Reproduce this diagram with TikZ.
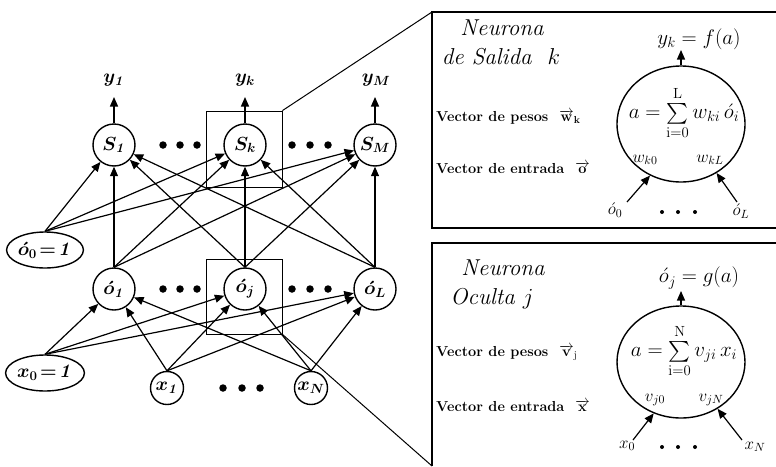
\RequirePackage{fix-cm}
\documentclass[tikz,border=0pt]{standalone}
\usepackage{amsmath}
\usetikzlibrary{arrows.meta,shapes.geometric}
\newcommand\netfont{\fontsize{19}{22}\selectfont\boldmath}
\newcommand\panfont{\fontsize{21}{24}\selectfont}
\newcommand\ttlfont{\fontsize{23}{27}\selectfont\itshape}
\newcommand\vecfont{\fontsize{14.5}{17}\selectfont\bfseries}
\newcommand\smfont{\fontsize{17}{20}\selectfont}
\tikzset{
  neuron/.style={circle,draw,line width=1.4pt,minimum size=42pt,inner sep=0pt,font=\netfont},
  inneuron/.style={circle,draw,line width=1.4pt,minimum size=33pt,inner sep=0pt,font=\netfont},
  biasnode/.style={ellipse,draw,line width=1.4pt,minimum width=70pt,minimum height=36pt,inner sep=0pt,font=\netfont},
  outlbl/.style={inner sep=0pt,font=\netfont},
  conn/.style={line width=1.2pt,-{Triangle[length=9.5pt,width=8pt]}},
  bigdot/.style={circle,fill,inner sep=0pt,minimum size=7.5pt},
  smdot/.style={circle,fill,inner sep=0pt,minimum size=4pt},
  zoombox/.style={draw,line width=0.8pt,minimum width=76pt,minimum height=76pt,inner sep=0pt},
  zoomline/.style={line width=1pt},
  panel/.style={line width=2pt},
  bigneuron/.style={ellipse,draw,line width=1.4pt,minimum width=128pt,minimum height=116pt,inner sep=0pt},
  ttl/.style={inner sep=0pt,font=\ttlfont},
  veclbl/.style={inner sep=0pt,anchor=west,font=\vecfont},
  plbl/.style={inner sep=0pt,font=\panfont},
  slbl/.style={inner sep=0pt,font=\smfont}
}
\begin{document}
\begin{tikzpicture}[x=1pt,y=-1pt]
\useasboundingbox (0,0) rectangle (776,466);

% ---------- network ----------
\node[neuron] (S1) at (114,145) {$S_{\mathit{1}}$};
\node[neuron] (Sk) at (245,145) {$S_k$};
\node[neuron] (SM) at (375,145) {$S_M$};

\node[outlbl] (y1) at (114,80) {$y_{\mathit{1}}$};
\node[outlbl] (yk) at (245,80) {$y_k$};
\node[outlbl] (yM) at (376,80) {$y_M$};
\coordinate (t1) at (114,97);
\coordinate (tk) at (245,97);
\coordinate (tM) at (375,97);
\draw[conn] (S1.north) -- (t1);
\draw[conn] (Sk.north) -- (tk);
\draw[conn] (SM.north) -- (tM);

\node[biasnode] (O0) at (45,250) {$\acute{o}_0\!=\!\mathit{1}$};
\node[neuron] (O1) at (114,289) {$\acute{o}_{\mathit{1}}$};
\node[neuron] (Oj) at (245,289) {$\acute{o}_j$};
\node[neuron] (OL) at (375,289) {$\acute{o}_L$};

\node[biasnode] (x0) at (45,373) {$x_0\!=\!\mathit{1}$};
\node[inneuron] (x1) at (167,388) {$x_{\mathit{1}}$};
\node[inneuron] (xN) at (311,388) {$x_N$};

\foreach \s in {O0,O1,Oj,OL}
  \foreach \t in {S1,Sk,SM}
    \draw[conn] (\s.north) -- (\t);
\foreach \s in {x0,x1,xN}
  \foreach \t in {O1,Oj,OL}
    \draw[conn] (\s.north) -- (\t);

% dots
\foreach \y/\n in {145/s,289/o}{
  \foreach \x/\m in {163/a,180/b,197/c,292/d,310/e,328/f}
    \node[bigdot] (d\n\m) at (\x,\y) {};
}
\foreach \x/\m in {223/a,242/b,260/c}
  \node[bigdot] (di\m) at (\x,388) {};

% zoom boxes
\node[zoombox] (bxS) at (244,149) {};
\node[zoombox,minimum height=75pt] (bxO) at (244,296.5) {};
\coordinate (p1c) at (432,12);
\coordinate (p2c) at (432,466);
\draw[zoomline] (bxS.north east) -- (p1c);
\draw[zoomline] (bxO.south east) -- (p2c);

% ---------- panel 1 ----------
\draw[panel] (776,12) -- (432,12) -- (432,228) -- (776,228);
\node[ttl] (t1a) at (502,28) {Neurona};
\node[ttl] (t1b) at (501,57) {de Salida \ $k$};
\node[veclbl] (v1a) at (436,117) {Vector de pesos \ $\overrightarrow{\mathbf{w}}_{\mathbf{k}}$};
\node[veclbl] (v1b) at (436,168) {Vector de entrada \ $\overrightarrow{\mathbf{o}}$};
\node[bigneuron] (P1) at (681,124) {};
\node[plbl] (f1) at (684,113) {$a=\sum\limits_{\mathrm{i=0}}^{\mathrm{L}} w_{ki}\,\acute{o}_i$};
\node[plbl] (o1) at (699,39) {$y_k=f(a)$};
\coordinate (P1t) at (681,50);
\draw[conn] (P1.north) -- (P1t);
\node[slbl] (w0) at (645,160) {$w_{k0}$};
\node[slbl] (wL) at (710,160) {$w_{kL}$};
\node[slbl] (i0) at (615,210) {$\acute{o}_0$};
\node[slbl] (iL) at (741,211) {$\acute{o}_L$};
\coordinate (a1l) at (627,202);
\coordinate (a1r) at (737,202);
\draw[conn] (a1l) -- (P1.-121);
\draw[conn] (a1r) -- (P1.-54);
\foreach \x/\m in {662/a,678/b,695/c}
  \node[smdot] (pd1\m) at (\x,212) {};

% ---------- panel 2 ----------
\draw[panel] (776,243) -- (432,243) -- (432,466);
\node[ttl] (t2a) at (503,268) {Neurona};
\node[ttl] (t2b) at (492,299) {Oculta $j$};
\node[veclbl] (v2a) at (436,353) {Vector de pesos \ $\overrightarrow{\mathbf{v}}_{\mathrm{j}}$};
\node[veclbl] (v2b) at (436,406) {Vector de entrada \ $\overrightarrow{\mathbf{x}}$};
\node[bigneuron,minimum height=112pt] (P2) at (681,362) {};
\node[plbl] (f2) at (684,351) {$a=\sum\limits_{\mathrm{i=0}}^{\mathrm{N}} v_{ji}\,x_i$};
\node[plbl] (o2) at (699,278) {$\acute{o}_j=g(a)$};
\coordinate (P2t) at (681,291);
\draw[conn] (P2.north) -- (P2t);
\node[slbl] (v0) at (655,400) {$v_{j0}$};
\node[slbl] (vN) at (711,400) {$v_{jN}$};
\node[slbl] (j0) at (627,446) {$x_0$};
\node[slbl] (jN) at (755,447) {$x_N$};
\coordinate (a2l) at (633,440);
\coordinate (a2r) at (742,440);
\draw[conn] (a2l) -- (P2.-118);
\draw[conn] (a2r) -- (P2.-52);
\foreach \x/\m in {662/a,678/b,695/c}
  \node[smdot] (pd2\m) at (\x,447) {};
\end{tikzpicture}
\end{document}
